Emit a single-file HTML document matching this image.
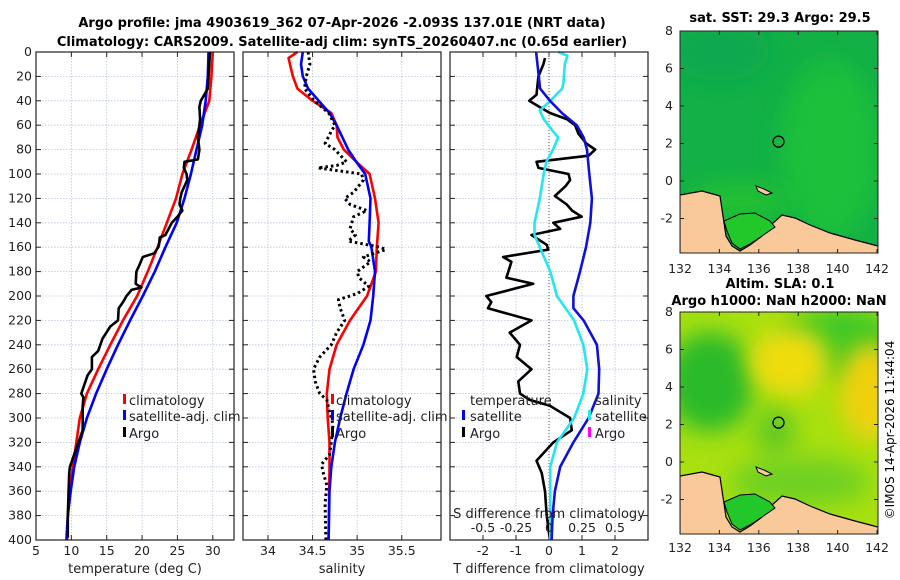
<!DOCTYPE html>
<html><head><meta charset="utf-8">
<style>
html,body{margin:0;padding:0;background:#fff;}
svg{display:block;font-family:"DejaVu Sans","Liberation Sans",sans-serif;}
</style></head>
<body>
<svg id="fig" width="900" height="580" viewBox="0 0 900 580" xmlns="http://www.w3.org/2000/svg">
<text x="342" y="27" text-anchor="middle" font-size="13" font-weight="bold">Argo profile: jma 4903619_362 07-Apr-2026 -2.093S 137.01E (NRT data)</text>
<text x="342" y="46" text-anchor="middle" font-size="13" font-weight="bold">Climatology: CARS2009. Satellite-adj clim: synTS_20260407.nc (0.65d earlier)</text>
<text x="780" y="22" text-anchor="middle" font-size="13" font-weight="bold">sat. SST: 29.3 Argo: 29.5</text>
<text x="780" y="288" text-anchor="middle" font-size="13" font-weight="bold">Altim. SLA: 0.1</text>
<text x="779" y="305" text-anchor="middle" font-size="13" font-weight="bold">Argo h1000: NaN h2000: NaN</text>
<text transform="translate(894,430) rotate(-90)" text-anchor="middle" font-size="12">©IMOS 14-Apr-2026 11:44:04</text>
<g id="plots"></g>
</svg>
<script>
// ---------- data ----------
const depthTicks=[0,20,40,60,80,100,120,140,160,180,200,220,240,260,280,300,320,340,360,380,400];
const tempTicks=[5,10,15,20,25,30];
const salTicks=[34,34.5,35,35.5];
const tdiffTicks=[-2,-1,0,1,2];
const sdiffTicks=[-0.5,-0.25,0,0.25,0.5];
const sdiffTickLabels=["-0.5","-0.25","0","0.25","0.5"];
const stdDepth=[0,20,40,60,80,100,120,140,160,180,200,220,240,260,280,300,320,340,360,380,400];
const tempClim=[30,29.8,29.5,28.2,27,25.7,24.8,23.5,22.2,20.8,19.3,17.3,15.5,13.8,12.2,11.2,10.7,10.2,9.8,9.5,9.4];
const tempSat=[29.4,29.3,29,28.5,27.7,26.9,26,24.9,23.3,21.8,20.1,18.3,16.6,15,13.5,12.2,11.2,10.4,9.9,9.5,9.3];
const argoTDepth=[0,10,30,40,45,55,70,80,88,90,95,100,105,115,120,125,130,135,140,150,152,158,160,165,168,175,180,190,193,195,200,205,210,220,225,235,245,250,260,265,275,280,283,290,310,320,340,345,380,398];
const argoTemp=[29.6,29.5,29.3,28.3,28.1,28.2,27.9,28.1,27.9,26,25.9,26.3,26.4,25.6,25.4,25.3,25.7,25,24.2,23.3,22.5,22.4,22.3,21.7,20.1,19.6,19.2,19.1,19.9,18.5,17.8,17.3,16.7,16.6,15.5,14.4,13.8,12.9,12.9,12.3,11.7,11.4,11.7,11.6,11.6,11.0,9.8,9.7,9.5,9.5];
const salDepthClim=[0,5,20,30,40,50,60,70,80,90,100,120,140,160,180,200,220,240,260,280,300,320,340,400];
const salClim=[34.33,34.23,34.28,34.33,34.5,34.71,34.77,34.78,34.85,34.99,35.14,35.2,35.24,35.22,35.21,35.11,34.92,34.77,34.69,34.66,34.67,34.69,34.69,34.68];
const salDepthSat=[0,10,20,30,40,50,60,80,90,100,120,140,155,160,180,200,220,240,260,280,300,320,340,360,400];
const salSat=[34.39,34.37,34.39,34.45,34.57,34.69,34.77,34.9,34.99,35.09,35.15,35.14,35.13,35.16,35.2,35.18,35.15,35.07,34.96,34.88,34.81,34.75,34.71,34.69,34.68];
const argoSDepth=[0,10,20,30,40,50,60,65,75,80,90,93,95,100,105,115,120,125,130,135,145,150,155,160,162,168,172,180,185,192,198,203,210,220,230,240,250,260,270,280,285,295,305,320,330,338,345,355,370,400];
const argoSal=[34.45,34.47,34.43,34.41,34.52,34.68,34.75,34.71,34.64,34.75,34.88,34.77,34.56,35.05,35.07,34.96,34.86,34.92,35.11,34.96,34.92,34.98,34.9,35.26,35.32,35.07,35.15,35.0,35.02,35.13,35.0,34.79,34.81,34.86,34.77,34.71,34.58,34.51,34.53,34.58,34.66,34.69,34.73,34.71,34.69,34.6,34.62,34.66,34.64,34.65];
const tdiffDepth=[0,20,30,40,50,60,70,80,100,120,140,160,180,200,210,220,240,260,280,300,320,340,360,380,400];
const tdiffSat=[-0.39,-0.31,-0.27,0.03,0.39,0.84,1.05,1.15,1.22,1.3,1.25,1.12,0.94,0.74,0.74,1.05,1.45,1.52,1.5,1.2,0.74,0.34,0.18,0.11,0.08];
const sdiffDepth=[0,3,10,25,30,40,48,55,65,70,80,90,100,120,140,150,160,180,200,220,240,260,280,300,320,340,360,400];
const sdiffSat=[0.07,0.14,0.12,0.11,0.1,0.01,-0.07,-0.04,0.03,0.07,0.03,-0.02,-0.04,-0.07,-0.11,-0.11,-0.07,0.01,0.06,0.19,0.26,0.29,0.26,0.19,0.06,0.01,0.01,0.01];
const tdiffArgoDepth=[5,10,20,35,40,45,50,55,60,67,75,80,85,90,95,100,105,110,118,125,130,135,140,145,150,158,162,168,172,185,190,200,205,210,220,230,240,250,260,270,280,285,290,300,310,320,335,345,360,380,400];
const tdiffArgo=[-0.12,-0.17,-0.32,-0.38,-0.6,-0.29,0.03,0.54,0.79,0.89,1.13,1.4,1.2,-0.38,-0.32,0.59,0.64,0.5,0.18,0.54,0.7,0.99,0.13,0.34,-0.53,-0.07,-0.02,-1.39,-1.14,-1.29,-0.48,-1.9,-1.75,-1.85,-0.53,-1.19,-0.88,-0.98,-0.53,-0.93,-0.88,-0.6,0.03,0.64,0.69,0.13,-0.38,-0.22,-0.12,-0.07,0.03];
const mapLonTicks=[132,134,136,138,140,142];
const mapLatTicks=[8,6,4,2,0,-2];
const argoLon=137.0, argoLat=2.1;

// ---------- helpers ----------
const NS="http://www.w3.org/2000/svg";
const root=document.getElementById('plots');
function mk(tag,attrs,parent){const e=document.createElementNS(NS,tag);for(const k in attrs)e.setAttribute(k,attrs[k]);(parent||root).appendChild(e);return e;}
const Y0=52,Y1=540;
function yD(d){return Y0+(d/400)*(Y1-Y0);}
function linX(x0,x1,v0,v1){return v=>x0+(v-v0)/(v1-v0)*(x1-x0);}

function panel(x0,x1,name,xs,ticks,labels,showY){
  const g=mk('g',{});
  
  
  mk('rect',{x:x0,y:Y0,width:x1-x0,height:Y1-Y0,fill:'#fff'},g);
  depthTicks.forEach(d=>{
    const l=mk('line',{x1:x0,x2:x1,y1:yD(d),y2:yD(d),stroke:'#b8c4dc','stroke-width':0.8,'stroke-dasharray':'1.5,1.5'},g);
    
    
    mk('line',{x1:x0,x2:x0+5,y1:yD(d),y2:yD(d),stroke:'#222'},g);
    mk('line',{x1:x1-5,x2:x1,y1:yD(d),y2:yD(d),stroke:'#222'},g);
    if(showY){const t=mk('text',{x:x0-4,y:yD(d)+4,'text-anchor':'end','font-size':12.5,fill:'#222'},g);t.textContent=d;
      
      }
  });
  ticks.forEach((v,i)=>{
    const x=xs(v);
    const l=mk('line',{x1:x,x2:x,y1:Y0,y2:Y1,stroke:'#b8c4dc','stroke-width':0.8,'stroke-dasharray':'1.5,1.5'},g);
    
    
    mk('line',{x1:x,x2:x,y1:Y1-5,y2:Y1,stroke:'#222'},g);
    mk('line',{x1:x,x2:x,y1:Y0,y2:Y0+5,stroke:'#222'},g);
    const t=mk('text',{x:x,y:555,'text-anchor':'middle','font-size':12.5,fill:'#222'},g);t.textContent=labels?labels[i]:v;
    
    
  });
  return g;
}
function frame(x0,x1,g){mk('rect',{x:x0,y:Y0,width:x1-x0,height:Y1-Y0,fill:'none',stroke:'#222','stroke-width':1.2},g);}
function line(g,xs,depths,vals,color,name,extra){
  const pts=vals.map((v,i)=>xs(v).toFixed(1)+','+yD(depths[i]).toFixed(1)).join(' ');
  const p=mk('polyline',Object.assign({points:pts,fill:'none',stroke:color,'stroke-width':2.6,'stroke-linejoin':'round'},extra||{}),g);
  
  
  return p;
}
function txt(g,x,y,s,name,anchor,size){const t=mk('text',{x:x,y:y,'font-size':size||13,fill:'#222','text-anchor':anchor||'start'},g);t.textContent=s;
  
  return t;}
function swatch(g,x,y,color,name){const r=mk('rect',{x:x,y:y-11,width:3,height:10,fill:color},g);
  
  }

// ---------- panel 1: temperature ----------
const xT=linX(36,234,5,33);
const g1=panel(36,234,'temperature-panel',xT,tempTicks,null,true);
line(g1,xT,stdDepth,tempClim,'#ff0000','temp-climatology-line');
line(g1,xT,stdDepth,tempSat,'#0000ff','temp-satellite-line');
line(g1,xT,argoTDepth,argoTemp,'#000','temp-argo-line');
frame(36,234,g1);
txt(g1,135,573,'temperature (deg C)','temperature-axis-title','middle');
swatch(g1,123,405,'#ff0000','legend-swatch-climatology');txt(g1,129,405,'climatology','legend-climatology');
swatch(g1,123,421,'#0000ff','legend-swatch-satellite');txt(g1,129,421,'satellite-adj. clim','legend-satellite-adj');
swatch(g1,123,438,'#000','legend-swatch-argo');txt(g1,129,438,'Argo','legend-argo');

// ---------- panel 2: salinity ----------
const xS=linX(243,441,33.72,35.94);
const g2=panel(243,441,'salinity-panel',xS,salTicks,null,false);
line(g2,xS,salDepthClim,salClim,'#ff0000','sal-climatology-line');
line(g2,xS,salDepthSat,salSat,'#0000ff','sal-satellite-line');
line(g2,xS,argoSDepth,argoSal,'#000','sal-argo-line',{'stroke-dasharray':'2.5,3','stroke-width':3});
frame(243,441,g2);
txt(g2,342,573,'salinity','salinity-axis-title','middle');
swatch(g2,331,405,'#ff0000','legend-swatch-climatology');txt(g2,336,405,'climatology','legend-climatology');
swatch(g2,331,421,'#0000ff','legend-swatch-satellite');txt(g2,336,421,'satellite-adj. clim','legend-satellite-adj');
swatch(g2,331,438,'#000','legend-swatch-argo');txt(g2,336,438,'Argo','legend-argo');

// ---------- panel 3: differences ----------
const xD=linX(450,648,-3,3);
const xSD=linX(450,648,-0.75,0.75);
const g3=panel(450,648,'difference-panel',xD,tdiffTicks,null,false);
const zl=mk('line',{x1:xD(0),x2:xD(0),y1:Y0,y2:Y1,stroke:'#555','stroke-width':1,'stroke-dasharray':'1,2'},g3);


line(g3,xD,tdiffArgoDepth,tdiffArgo,'#000','tdiff-argo-line');
line(g3,xSD,sdiffDepth,sdiffSat,'#22e6f0','sdiff-satellite-line');
line(g3,xD,tdiffDepth,tdiffSat,'#1010dd','tdiff-satellite-line');
frame(450,648,g3);
txt(g3,549,573,'T difference from climatology','tdiff-axis-title','middle');
txt(g3,549,518,'S difference from climatology','sdiff-axis-title','middle');
sdiffTicks.forEach((v,i)=>txt(g3,xSD(v),532,sdiffTickLabels[i],'sdiff-tick-label','middle',12.5));
txt(g3,470,405,'temperature','legend-temperature-header');
swatch(g3,462,421,'#0000ff','legend-swatch-t-satellite');txt(g3,470,421,'satellite','legend-t-satellite');
swatch(g3,462,438,'#000','legend-swatch-t-argo');txt(g3,470,438,'Argo','legend-t-argo');
txt(g3,595,405,'salinity','legend-salinity-header');
swatch(g3,588,421,'#22e6f0','legend-swatch-s-satellite');txt(g3,595,421,'satellite','legend-s-satellite');
swatch(g3,588,438,'#ff00ff','legend-swatch-s-argo');txt(g3,595,438,'Argo','legend-s-argo');

// ---------- maps ----------
const land=[[0,164],[22,160],[40,165],[43,185],[46,205],[52,215],[60,220],[70,214],[82,205],[92,193],[102,184],[115,187],[130,194],[150,202],[175,209],[198,215],[198,223],[0,223]];
const isl=[[76,155],[84,158],[92,162],[86,164],[78,160]];
function map(top,name,bg,blobs,lonY){
  const x0=680,w=198,h=222;
  const g=mk('g',{});
  
  
  const clipId=name+'-clip';
  const cp=mk('clipPath',{id:clipId},g);mk('rect',{x:x0,y:top,width:w,height:h},cp);
  const inner=mk('g',{'clip-path':'url(#'+clipId+')'},g);
  mk('rect',{x:x0,y:top,width:w,height:h,fill:bg},inner);
  const fid=name+'-blur';
  const f=mk('filter',{id:fid,x:'-50%',y:'-50%',width:'200%',height:'200%'},g);mk('feGaussianBlur',{stdDeviation:12},f);
  blobs.forEach(b=>mk('ellipse',{cx:x0+b[0],cy:top+b[1],rx:b[2],ry:b[3],fill:b[4],filter:'url(#'+fid+')'},inner));
  const lp=mk('polygon',{points:land.map(p=>(x0+p[0])+','+(top+p[1])).join(' '),fill:'#f9c99a',stroke:'#000','stroke-width':1.2},inner);
  
  
  mk('polygon',{points:isl.map(p=>(x0+p[0])+','+(top+p[1])).join(' '),fill:'#f9c99a',stroke:'#000','stroke-width':1},inner);
  mk('polygon',{points:[[44,190],[60,183],[75,182],[90,190],[95,196],[82,205],[70,213],[60,218],[52,212],[47,200]].map(p=>(x0+p[0])+','+(top+p[1])).join(' '),fill:'#22c82a',stroke:'#000','stroke-width':1},inner);
  mk('rect',{x:x0,y:top,width:w,height:h,fill:'none',stroke:'#222','stroke-width':1},g);
  const lx=linX(680,877,132,142), ly=v=>top+(8-v)*18.75;
  mapLonTicks.forEach(v=>{mk('line',{x1:lx(v),x2:lx(v),y1:top+h-4,y2:top+h,stroke:'#222'},g);mk('line',{x1:lx(v),x2:lx(v),y1:top,y2:top+4,stroke:'#222'},g);
    txt(g,lx(v),lonY,String(v),'lon-tick-label','middle',12.5);});
  mapLatTicks.forEach(v=>{mk('line',{x1:x0,x2:x0+4,y1:ly(v),y2:ly(v),stroke:'#222'},g);mk('line',{x1:x0+w-4,x2:x0+w,y1:ly(v),y2:ly(v),stroke:'#222'},g);
    txt(g,673,ly(v)+4,String(v),'lat-tick-label','end',12.5);});
  const c=mk('circle',{cx:lx(argoLon),cy:ly(argoLat),r:5.5,fill:'none',stroke:'#000','stroke-width':1.3},g);
  
  
}
map(31,'sst-map','#12b046',[[150,120,50,90,'#1fc03a'],[40,20,50,30,'#10a850'],[60,170,50,20,'#22c030']],273);
map(312,'sla-map','#a8e010',[[30,70,45,50,'#2cba2a'],[160,30,60,35,'#3cc828'],[110,50,40,35,'#f0dc10'],[190,80,30,50,'#f0d010'],[95,120,20,25,'#60c820'],[120,170,70,25,'#70d020']],552);
</script>
</body></html>
